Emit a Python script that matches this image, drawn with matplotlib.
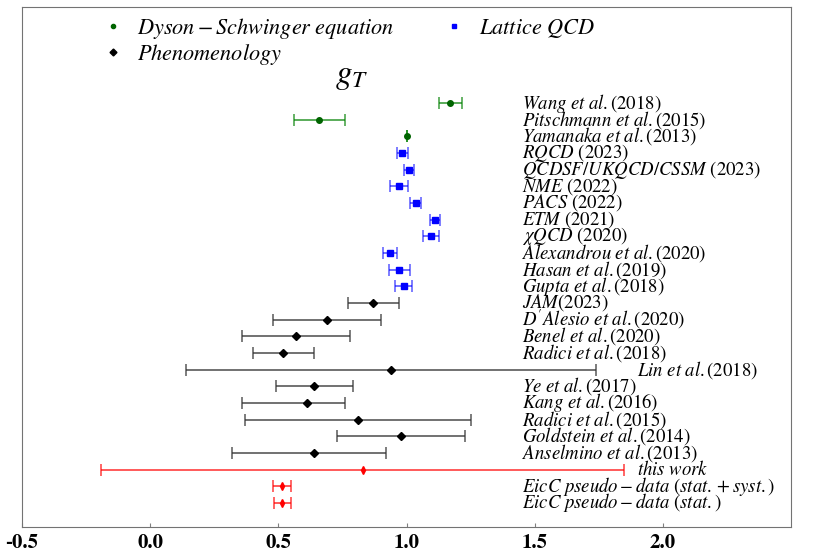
import matplotlib
matplotlib.use("Agg")
import matplotlib.pyplot as plt
from matplotlib.lines import Line2D

plt.rcParams['mathtext.fontset'] = 'stix'

# Dyson-Schwinger equation
dse_labels = [r"$Wang\ et\ al.(2018)$", r"$Pitschmann\ et\ al.(2015)$",
              r"$Yamanaka\ et\ al.(2013)$"]
dse_val = [1.17, 0.66, 1.00]
dse_err = [0.045, 0.10, 0.0]

# Lattice QCD
lat_labels = [r"$RQCD\ (2023)$", r"$QCDSF/UKQCD/CSSM\ (2023)$", r"$NME\ (2022)$",
              r"$PACS\ (2022)$", r"$ETM\ (2021)$", r"$\chi QCD\ (2020)$",
              r"$Alexandrou\ et\ al.(2020)$", r"$Hasan\ et\ al.(2019)$",
              r"$Gupta\ et\ al.(2018)$"]
lat_val = [0.984, 1.010, 0.970, 1.036, 1.111, 1.097, 0.936, 0.972, 0.989]
lat_err = [0.022, 0.021, 0.036, 0.021, 0.021, 0.031, 0.026, 0.042, 0.033]

# Phenomenology
phe_labels = [r"$JAM(2023)$", r"$D'Alesio\ et\ al.(2020)$", r"$Benel\ et\ al.(2020)$",
              r"$Radici\ et\ al.(2018)$", r"$Lin\ et\ al.(2018)$",
              r"$Ye\ et\ al.(2017)$", r"$Kang\ et\ al.(2016)$",
              r"$Radici\ et\ al.(2015)$", r"$Goldstein\ et\ al.(2014)$",
              r"$Anselmino\ et\ al.(2013)$"]
phe_val = [0.87, 0.69, 0.57, 0.52, 0.94, 0.64, 0.61, 0.81, 0.98, 0.64]
phe_lo = [0.10, 0.21, 0.21, 0.12, 0.80, 0.15, 0.25, 0.44, 0.25, 0.32]
phe_hi = [0.10, 0.21, 0.21, 0.12, 0.80, 0.15, 0.15, 0.44, 0.25, 0.28]

# this work / EicC
eic_labels = [r"$this\ work$", r"$EicC\ pseudo-data\ (stat.+syst.)$",
              r"$EicC\ pseudo-data\ (stat.)$"]
eic_val = [0.83, 0.515, 0.516]
eic_err = [1.02, 0.035, 0.034]

n_rows = len(dse_val) + len(lat_val) + len(phe_val) + len(eic_val)

fig = plt.figure(figsize=(8.3, 5.54), dpi=100)
ax = fig.add_axes([22/830, 27/554, 769/830, 520/554])

row = n_rows - 1
def rows(k):
    global row
    ys = list(range(row, row - k, -1))
    row -= k
    return ys

y_dse = rows(len(dse_val))
y_lat = rows(len(lat_val))
y_phe = rows(len(phe_val))
y_eic = rows(len(eic_val))

ekw = dict(capsize=4, elinewidth=1.3, capthick=1.2, linestyle='none')
ax.errorbar(dse_val, y_dse, xerr=dse_err, fmt='o', ms=4, color='darkgreen',
            ecolor=(0.0, 0.5, 0.0, 0.7), **ekw)
ax.errorbar(lat_val, y_lat, xerr=lat_err, fmt='s', ms=5, color='blue',
            ecolor=(0.0, 0.0, 1.0, 0.6), **ekw)
ax.errorbar(phe_val, y_phe, xerr=[phe_lo, phe_hi], fmt='D', ms=4, color='black',
            ecolor=(0.2, 0.2, 0.2, 0.75), **ekw)
ax.errorbar(eic_val, y_eic, xerr=eic_err, fmt='d', ms=4, color='red',
            ecolor=(1.0, 0.0, 0.0, 0.7), **ekw)

all_labels = dse_labels + lat_labels + phe_labels + eic_labels
all_y = y_dse + y_lat + y_phe + y_eic
for lab, y in zip(all_labels, all_y):
    xl = 1.90 if ('Lin' in lab or 'this' in lab) else 1.45
    ax.text(xl, y, lab, fontsize=13.5, va='center', ha='left')

ax.text(0.429, 0.869, r"$g_T$", fontsize=24, ha='center', va='center',
        transform=ax.transAxes)

handles = [Line2D([], [], marker='o', ms=3, color='darkgreen', ls='none'),
           Line2D([], [], marker='D', ms=3.5, color='black', ls='none'),
           Line2D([], [], marker='s', ms=3.5, color='blue', ls='none')]
names = [r"$Dyson-Schwinger\ equation$", r"$Phenomenology$", r"$Lattice\ QCD$"]
ax.legend(handles, names, ncol=2, loc='upper left', bbox_to_anchor=(0.092, 1.0),
          frameon=False, fontsize=16, handlelength=1.0, handletextpad=0.6,
          columnspacing=2.2, borderaxespad=0, labelspacing=0.05)

ax.set_xlim(-0.5, 2.5)
ax.set_ylim(-1.44, 29.76)
ax.set_xticks([-0.5, 0.0, 0.5, 1.0, 1.5, 2.0])
ax.set_xticklabels(['-0.5', '0.0', '0.5', '1.0', '1.5', '2.0'],
                   fontfamily='STIXGeneral', fontweight='bold', fontsize=15)
ax.set_yticks([])
ax.tick_params(axis='x', direction='in', length=3, color='0.5', pad=5)
for s in ax.spines.values():
    s.set_color('0.45')

fig.savefig('out.png', dpi=100)
